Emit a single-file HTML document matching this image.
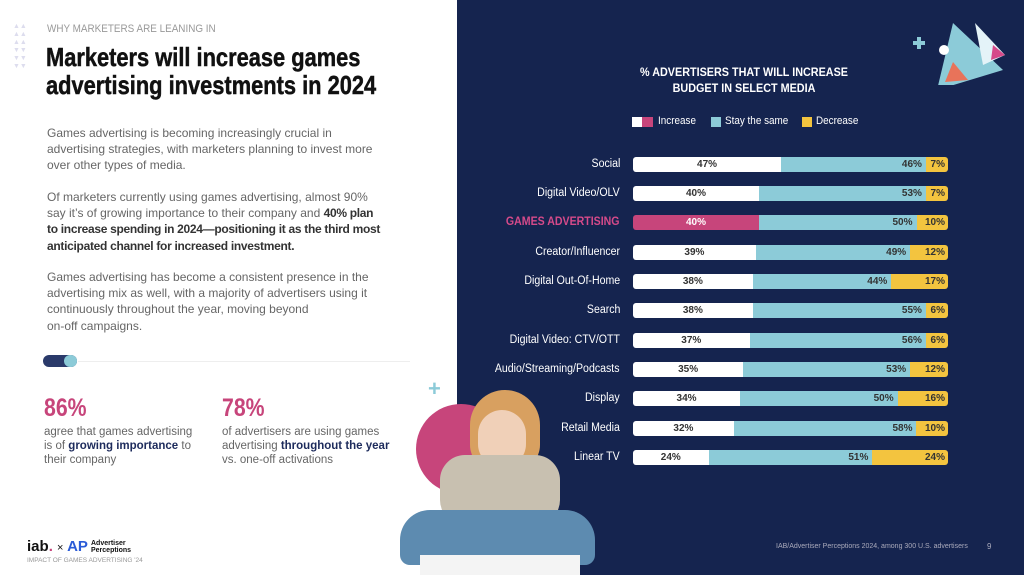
<!DOCTYPE html>
<html><head><meta charset="utf-8"><style>
*{margin:0;padding:0;box-sizing:border-box}
body{width:1024px;height:575px;position:relative;overflow:hidden;background:#fff;font-family:"Liberation Sans",sans-serif}
.a{position:absolute;white-space:nowrap}
.body{position:absolute;left:47px;font-size:12px;line-height:16.2px;color:#666;white-space:nowrap}
.body b{color:#333;letter-spacing:-0.3px}
#panel{position:absolute;left:457px;top:0;width:567px;height:575px;background:#15244f}
.lab{position:absolute;right:404px;font-size:11.5px;line-height:15px;color:#fff;text-align:right;white-space:nowrap;transform:scaleX(0.92);transform-origin:right}
.bar{position:absolute;left:633px;width:315px;height:15px;border-radius:3px;overflow:hidden;display:flex;font-size:10px;font-weight:bold;color:#333}
.bar div{height:15px;line-height:15px;position:relative}
.i{background:#fff;text-align:center}
.s{background:#8ccbd8;text-align:right;padding-right:4px}
.d{background:#f3c43f;text-align:right;padding-right:3px}
</style></head><body>
<div class="a" style="left:47px;top:23px;font-size:11px;color:#999;transform:scaleX(0.9);transform-origin:left">WHY MARKETERS ARE LEANING IN</div>
<div class="a" style="left:13px;top:23px;font-size:7px;line-height:8px;color:#dde;width:16px;white-space:normal">▲▲ ▲▲ ▲▲ ▼▼ ▼▼ ▼▼</div>
<div class="a" style="left:46px;top:43px;font-size:26px;line-height:28px;font-weight:bold;color:#111;transform:scaleX(0.84);transform-origin:left;-webkit-text-stroke:0.5px #111">Marketers will increase games<br>advertising investments in 2024</div>
<div class="body" style="top:125px">Games advertising is becoming increasingly crucial in<br>advertising strategies, with marketers planning to invest more<br>over other types of media.</div>
<div class="body" style="top:189px">Of marketers currently using games advertising, almost 90%<br>say it’s of growing importance to their company and <b>40% plan<br>to increase spending in 2024—positioning it as the third most<br>anticipated channel for increased investment.</b></div>
<div class="body" style="top:269px">Games advertising has become a consistent presence in the<br>advertising mix as well, with a majority of advertisers using it<br>continuously throughout the year, moving beyond<br>on-off campaigns.</div>
<div class="a" style="left:43px;top:355px;width:34px;height:12px;border-radius:6px;background:#2a3a6a"></div>
<div class="a" style="left:64px;top:355px;width:13px;height:12px;border-radius:6px;background:#8ccbd8"></div>
<div class="a" style="left:78px;top:361px;width:332px;height:1px;background:#eee"></div>
<div class="a" style="left:44px;top:394px;font-size:25px;font-weight:bold;color:#c7457b;transform:scaleX(0.85);transform-origin:left">86%</div>
<div class="a" style="left:222px;top:394px;font-size:25px;font-weight:bold;color:#c7457b;transform:scaleX(0.85);transform-origin:left">78%</div>
<div class="a" style="left:44px;top:425px;font-size:11.5px;line-height:14px;color:#666">agree that games advertising<br>is of <b style="color:#1d2b5c">growing importance</b> to<br>their company</div>
<div class="a" style="left:222px;top:425px;font-size:11.5px;line-height:14px;color:#666">of advertisers are using games<br>advertising <b style="color:#1d2b5c">throughout the year</b><br>vs. one-off activations</div>
<div class="a" style="left:27px;top:538px;font-size:15px;font-weight:bold;color:#111">iab<span style="color:#c7457b">.</span> <span style="font-size:11px;font-weight:normal">×</span> <span style="color:#2a5bd7">AP</span></div>
<div class="a" style="left:91px;top:540px;font-size:7px;line-height:7px;font-weight:bold;color:#111">Advertiser<br>Perceptions</div>
<div class="a" style="left:27px;top:557px;font-size:6.5px;color:#999">IMPACT OF GAMES ADVERTISING '24</div>
<div id="panel"></div>
<div class="a" style="left:416px;top:404px;width:90px;height:90px;border-radius:50%;background:#c7457b"></div>
<div class="a" style="left:428px;top:376px;font-size:22px;font-weight:bold;color:#8ccbd8">+</div>
<div class="a" style="left:470px;top:390px;width:70px;height:80px;border-radius:35px 35px 25px 25px;background:#d8a060"></div>
<div class="a" style="left:478px;top:410px;width:48px;height:58px;border-radius:24px;background:#f0d0b8"></div>
<div class="a" style="left:440px;top:455px;width:120px;height:70px;border-radius:25px;background:#c8c0b0"></div>
<div class="a" style="left:400px;top:510px;width:195px;height:55px;border-radius:30px 30px 10px 10px;background:#5d8bb0"></div>
<div class="a" style="left:420px;top:555px;width:160px;height:20px;background:#f4f4f4"></div>
<svg class="a" style="left:905px;top:10px" width="110" height="75"><path d="M8 33h12M14 27v12" stroke="#8ccbd8" stroke-width="4"/><polygon points="48,13 98,60 32,80" fill="#8ccbd8"/><polygon points="70,13 100,45 78,55" fill="#e4f3f8"/><polygon points="48,52 63,70 40,72" fill="#e8735a"/><polygon points="88,35 100,45 86,50" fill="#d64a8a"/><circle cx="39" cy="40" r="5" fill="#fff"/></svg>
<div class="a" style="left:544px;width:400px;top:64px;text-align:center;font-size:12px;line-height:16px;font-weight:bold;color:#fff;transform:scaleX(0.9)">% ADVERTISERS THAT WILL INCREASE<br>BUDGET IN SELECT MEDIA</div>
<div class="a" style="left:632px;top:117px;width:10px;height:10px;background:#fff"></div><div class="a" style="left:642px;top:117px;width:11px;height:10px;background:#c7457b"></div>
<div class="a" style="left:658px;top:115px;font-size:11px;color:#fff;transform:scaleX(0.9);transform-origin:left">Increase</div>
<div class="a" style="left:711px;top:117px;width:10px;height:10px;background:#8ccbd8"></div>
<div class="a" style="left:725px;top:115px;font-size:11px;color:#fff;transform:scaleX(0.9);transform-origin:left">Stay the same</div>
<div class="a" style="left:802px;top:117px;width:10px;height:10px;background:#f3c43f"></div>
<div class="a" style="left:816px;top:115px;font-size:11px;color:#fff;transform:scaleX(0.9);transform-origin:left">Decrease</div>

<div class="lab" style="top:157px">Social</div>
<div class="bar" style="top:157px"><div class="i" style="width:47%">47%</div><div class="s" style="width:46%">46%</div><div class="d" style="width:7%">7%</div></div>
<div class="lab" style="top:186px">Digital Video/OLV</div>
<div class="bar" style="top:186px"><div class="i" style="width:40%">40%</div><div class="s" style="width:53%">53%</div><div class="d" style="width:7%">7%</div></div>
<div class="lab" style="top:215px;color:#d64a8a;font-weight:bold">GAMES ADVERTISING</div>
<div class="bar" style="top:215px"><div class="i" style="width:40%;background:#c7457b;color:#fff">40%</div><div class="s" style="width:50%">50%</div><div class="d" style="width:10%">10%</div></div>
<div class="lab" style="top:245px">Creator/Influencer</div>
<div class="bar" style="top:245px"><div class="i" style="width:39%">39%</div><div class="s" style="width:49%">49%</div><div class="d" style="width:12%">12%</div></div>
<div class="lab" style="top:274px">Digital Out-Of-Home</div>
<div class="bar" style="top:274px"><div class="i" style="width:38%">38%</div><div class="s" style="width:44%">44%</div><div class="d" style="width:18%">17%</div></div>
<div class="lab" style="top:303px">Search</div>
<div class="bar" style="top:303px"><div class="i" style="width:38%">38%</div><div class="s" style="width:55%">55%</div><div class="d" style="width:7%">6%</div></div>
<div class="lab" style="top:333px">Digital Video: CTV/OTT</div>
<div class="bar" style="top:333px"><div class="i" style="width:37%">37%</div><div class="s" style="width:56%">56%</div><div class="d" style="width:7%">6%</div></div>
<div class="lab" style="top:362px">Audio/Streaming/Podcasts</div>
<div class="bar" style="top:362px"><div class="i" style="width:35%">35%</div><div class="s" style="width:53%">53%</div><div class="d" style="width:12%">12%</div></div>
<div class="lab" style="top:391px">Display</div>
<div class="bar" style="top:391px"><div class="i" style="width:34%">34%</div><div class="s" style="width:50%">50%</div><div class="d" style="width:16%">16%</div></div>
<div class="lab" style="top:421px">Retail Media</div>
<div class="bar" style="top:421px"><div class="i" style="width:32%">32%</div><div class="s" style="width:58%">58%</div><div class="d" style="width:10%">10%</div></div>
<div class="lab" style="top:450px">Linear TV</div>
<div class="bar" style="top:450px"><div class="i" style="width:24%">24%</div><div class="s" style="width:52%">51%</div><div class="d" style="width:24%">24%</div></div>
<div class="a" style="left:776px;top:543px;font-size:7px;color:#aab">IAB/Advertiser Perceptions 2024, among 300 U.S. advertisers</div>
<div class="a" style="left:987px;top:542px;font-size:8px;color:#aab">9</div>
</body></html>
